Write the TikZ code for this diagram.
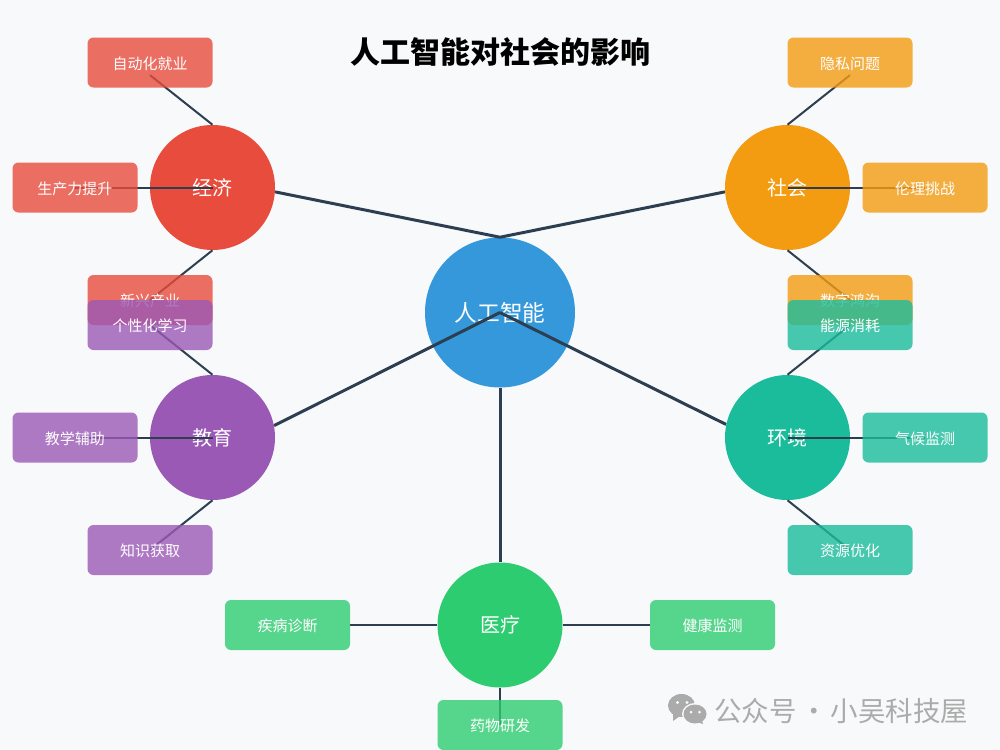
\documentclass[tikz,border=0pt]{standalone}
\usepackage{fontspec}
\setmainfont{Noto Sans CJK SC}
\usetikzlibrary{calc,backgrounds}
\pgfdeclarelayer{hublayer}
\pgfdeclarelayer{mainlines}
\pgfdeclarelayer{circles}
\pgfdeclarelayer{sublines}
\pgfsetlayers{hublayer,mainlines,circles,sublines,main}
\definecolor{bgc}{HTML}{F8F9FA}
\definecolor{linec}{HTML}{2C3E50}
\definecolor{cred}{HTML}{E74C3C}
\definecolor{corange}{HTML}{F39C12}
\definecolor{cblue}{HTML}{3498DB}
\definecolor{cpurple}{HTML}{9B59B6}
\definecolor{cteal}{HTML}{1ABC9C}
\definecolor{cgreen}{HTML}{2ECC71}
\definecolor{wm}{HTML}{ABABAB}
\tikzset{
  x=0.75pt,y=-0.75pt,
  hubnode/.style={circle,fill=cblue,text=white,minimum size=112.5pt,inner sep=0pt,font=\fontsize{17}{20}\selectfont},
  branch/.style={circle,fill=#1,text=white,minimum size=93.75pt,inner sep=0pt,font=\fontsize{15}{18}\selectfont},
  leaf/.style={rectangle,rounded corners=4.5pt,fill=#1,fill opacity=0.8,text opacity=1,text=white,minimum width=93.75pt,minimum height=37.5pt,inner sep=0pt,text height=10pt,text depth=0pt,font=\fontsize{11.25}{13}\selectfont},
  mainline/.style={draw=linec,line width=2.25pt},
  subline/.style={draw=linec,line width=1.5pt},
}
\newcommand{\halfdown}[1]{($(#1.center)!0.5!(#1.south)$)}
\begin{document}
\begin{tikzpicture}
\begin{pgfonlayer}{hublayer}
\path[fill=bgc,use as bounding box] (0,0) rectangle (1000,750);
\node[hubnode] (hub) at (500,312.5) {人工智能};
\end{pgfonlayer}
\node[font=\fontsize{22.5}{27}\selectfont\bfseries,text=black] (title) at (500,52.5) {人工智能对社会的影响};

\begin{pgfonlayer}{circles}
\node[branch=cred] (eco) at (212.5,187.5) {经济};
\node[branch=corange] (soc) at (787.5,187.5) {社会};
\node[branch=cpurple] (edu) at (212.5,437.5) {教育};
\node[branch=cteal] (env) at (787.5,437.5) {环境};
\node[branch=cgreen] (med) at (500,625) {医疗};
\end{pgfonlayer}

% leaves
\node[leaf=cred] (e1) at (150,62.5) {自动化就业};
\node[leaf=cred] (e2) at (75,187.5) {生产力提升};
\node[leaf=cred] (e3) at (150,300) {新兴产业};
\node[leaf=corange] (s1) at (850,62.5) {隐私问题};
\node[leaf=corange] (s2) at (925,187.5) {伦理挑战};
\node[leaf=corange] (s3) at (850,300) {数字鸿沟};
\node[leaf=cpurple] (d1) at (150,325) {个性化学习};
\node[leaf=cpurple] (d2) at (75,437.5) {教学辅助};
\node[leaf=cpurple] (d3) at (150,550) {知识获取};
\node[leaf=cteal] (v1) at (850,325) {能源消耗};
\node[leaf=cteal] (v2) at (925,437.5) {气候监测};
\node[leaf=cteal] (v3) at (850,550) {资源优化};
\node[leaf=cgreen] (m1) at (287.5,625) {疾病诊断};
\node[leaf=cgreen] (m2) at (712.5,625) {健康监测};
\node[leaf=cgreen] (m3) at (500,725) {药物研发};

\begin{pgfonlayer}{mainlines}
\draw[mainline] (eco.-4) -- (hub.north);
\draw[mainline] (soc.184) -- (hub.north);
\draw[mainline] (edu.11.3) -- (hub.center);
\draw[mainline] (env.168.7) -- (hub.center);
\draw[mainline] (med.north) -- (hub.south);
\end{pgfonlayer}

\begin{pgfonlayer}{sublines}
\draw[subline] (eco.north) -- \halfdown{e1};
\draw[subline] (eco.center) -- (e2.center);
\draw[subline] (eco.south) -- (e3.center);
\draw[subline] (soc.north) -- \halfdown{s1};
\draw[subline] (soc.center) -- (s2.center);
\draw[subline] (soc.south) -- (s3.center);
\draw[subline] (edu.north) -- (d1.center);
\draw[subline] (edu.center) -- (d2.center);
\draw[subline] (edu.south) -- (d3.center);
\draw[subline] (env.north) -- (v1.center);
\draw[subline] (env.center) -- (v2.center);
\draw[subline] (env.south) -- (v3.center);
\draw[subline] (med.west) -- (m1.east);
\draw[subline] (med.east) -- (m2.west);
\draw[subline] (med.south) -- (m3.center);
\end{pgfonlayer}

% watermark
\fill[wm] (681.5,705.5) ellipse [x radius=13.5,y radius=11.5];
\fill[wm] (673,714) -- (673,721) -- (680,716) -- cycle;
\fill[bgc] (695,714) ellipse [x radius=13,y radius=11];
\fill[wm] (695,714) ellipse [x radius=11.5,y radius=9.5];
\fill[wm] (702,720) -- (703,724) -- (697,722) -- cycle;
\fill[bgc] (677.5,702.5) circle (1.7) (687,702.5) circle (1.7) (691,712) circle (1.5) (699.5,712) circle (1.5);
\node[anchor=west,inner sep=0pt,text=wm,font=\fontsize{20.6}{24}\selectfont] (mark) at (714,711) {公众号\hspace{2.6pt}·\hspace{2.4pt}小吴科技屋};
\end{tikzpicture}
\end{document}
